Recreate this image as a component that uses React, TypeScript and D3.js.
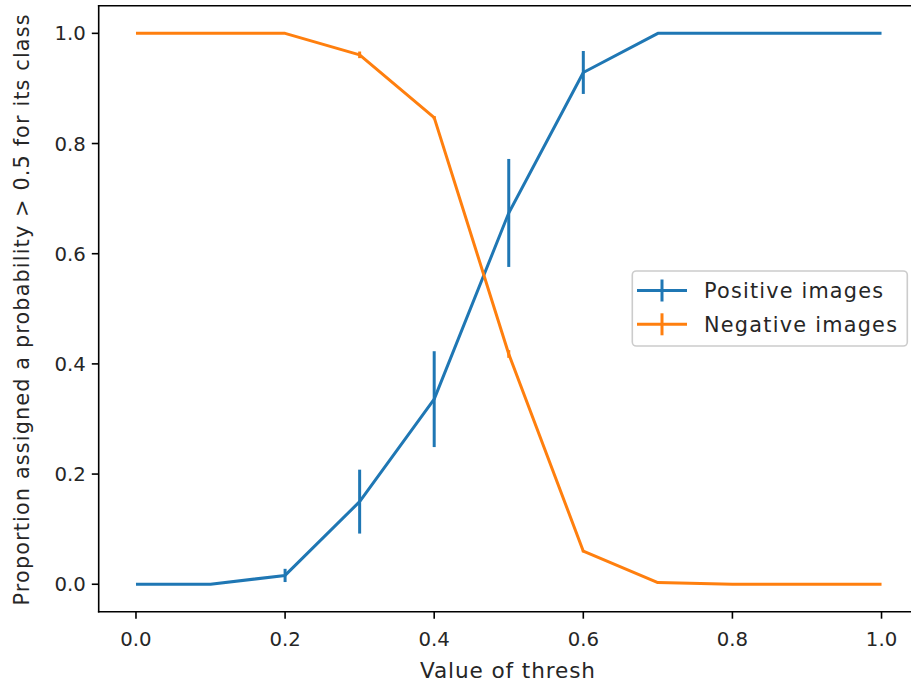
import React from "react";
import * as d3 from "d3";

const thresholds = [0.0, 0.1, 0.2, 0.3, 0.4, 0.5, 0.6, 0.7, 0.8, 0.9, 1.0];
const positiveMean = [0.0, 0.0, 0.016, 0.15, 0.336, 0.674, 0.929, 1.0, 1.0, 1.0, 1.0];
const positiveErr = [0.0, 0.0, 0.012, 0.058, 0.087, 0.098, 0.039, 0.0, 0.0, 0.0, 0.0];
const negativeMean = [1.0, 1.0, 1.0, 0.961, 0.847, 0.418, 0.06, 0.003, 0.0, 0.0, 0.0];
const negativeErr = [0.0, 0.0, 0.0, 0.006, 0.003, 0.007, 0.002, 0.001, 0.0, 0.0, 0.0];
const xTicks = [0.0, 0.2, 0.4, 0.6, 0.8, 1.0];
const yTicks = [0.0, 0.2, 0.4, 0.6, 0.8, 1.0];
const seriesNames = ["Positive images", "Negative images"];
const seriesColors = ["#1f77b4", "#ff7f0e"];

const W = 911;
const H = 687;
const FONT = "DejaVu Sans, sans-serif";
const FS = 19.7;
const LFS = 20.8;

export default function App() {
  const left = 98.7;
  const right = 918.8;
  const top = 5.8;
  const bottom = 611.8;
  const x = d3.scaleLinear().domain([-0.05, 1.05]).range([left, right]);
  const y = d3.scaleLinear().domain([-0.05, 1.05]).range([bottom, top]);
  const line = d3
    .line<[number, number]>()
    .x((d) => x(d[0]))
    .y((d) => y(d[1]));

  const series = [
    { mean: positiveMean, err: positiveErr },
    { mean: negativeMean, err: negativeErr },
  ];

  const tickLen = 6.9;
  const pad = 6.9;

  const legX = 632.3;
  const legY = 271;
  const legW = 275;
  const legH = 75;
  const rows = [290.5, 324.3];
  const legTextLen = [179, 193];

  return (
    <svg
      width={W}
      height={H}
      style={{ position: "absolute", left: 0, top: 0, background: "#fff" }}
      fontFamily={FONT}
    >
      <rect x={0} y={0} width={W} height={H} fill="#fff" />
      {series.map((s, i) => (
        <g key={i}>
          <path
            d={line(thresholds.map((t, j) => [t, s.mean[j]]) as [number, number][]) || ""}
            fill="none"
            stroke={seriesColors[i]}
            strokeWidth={3}
            strokeLinejoin="round"
            strokeLinecap="butt"
          />
          {thresholds.map((t, j) =>
            s.err[j] > 0 ? (
              <line
                key={j}
                x1={x(t)}
                x2={x(t)}
                y1={y(s.mean[j] - s.err[j])}
                y2={y(s.mean[j] + s.err[j])}
                stroke={seriesColors[i]}
                strokeWidth={3}
              />
            ) : null
          )}
        </g>
      ))}

      {/* spines */}
      <line x1={left} x2={left} y1={top} y2={bottom} stroke="#000" strokeWidth={1.6} strokeLinecap="square" />
      <line x1={left} x2={right} y1={bottom} y2={bottom} stroke="#000" strokeWidth={1.6} strokeLinecap="square" />
      <line x1={left} x2={right} y1={top} y2={top} stroke="#000" strokeWidth={1.6} strokeLinecap="square" />
      <line x1={right} x2={right} y1={top} y2={bottom} stroke="#000" strokeWidth={1.6} strokeLinecap="square" />

      {/* x ticks */}
      {xTicks.map((t) => (
        <g key={"x" + t}>
          <line x1={x(t)} x2={x(t)} y1={bottom} y2={bottom + tickLen} stroke="#000" strokeWidth={1.6} />
          <text x={x(t)} y={646} textAnchor="middle" fontSize={FS} fill="#262626">
            {t.toFixed(1)}
          </text>
        </g>
      ))}
      {/* y ticks */}
      {yTicks.map((t) => (
        <g key={"y" + t}>
          <line x1={left - tickLen} x2={left} y1={y(t)} y2={y(t)} stroke="#000" strokeWidth={1.6} />
          <text
            x={left - tickLen - pad + 1}
            y={y(t)}
            dy="0.36em"
            textAnchor="end"
            fontSize={FS}
            fill="#262626"
          >
            {t.toFixed(1)}
          </text>
        </g>
      ))}

      <text
        x={507.5}
        y={678}
        textAnchor="middle"
        fontSize={LFS + 0.8}
        textLength={175}
        fill="#262626"
      >
        Value of thresh
      </text>
      <text
        transform={`translate(29, 310) rotate(-90)`}
        textAnchor="middle"
        fontSize={LFS}
        textLength={591}
        fill="#262626"
      >
        Proportion assigned a probability &gt; 0.5 for its class
      </text>

      {/* legend */}
      <rect
        x={legX}
        y={legY}
        width={legW}
        height={legH}
        rx={4}
        ry={4}
        fill="#fff"
        fillOpacity={0.8}
        stroke="#cccccc"
        strokeWidth={1.6}
      />
      {seriesNames.map((n, i) => (
        <g key={n}>
          <line x1={637} x2={687} y1={rows[i]} y2={rows[i]} stroke={seriesColors[i]} strokeWidth={3} />
          <line x1={662} x2={662} y1={rows[i] - 11} y2={rows[i] + 11} stroke={seriesColors[i]} strokeWidth={3} />
          <text
            x={704}
            y={rows[i]}
            dy="0.36em"
            fontSize={LFS}
            textLength={legTextLen[i]}
            fill="#262626"
          >
            {n}
          </text>
        </g>
      ))}
    </svg>
  );
}
